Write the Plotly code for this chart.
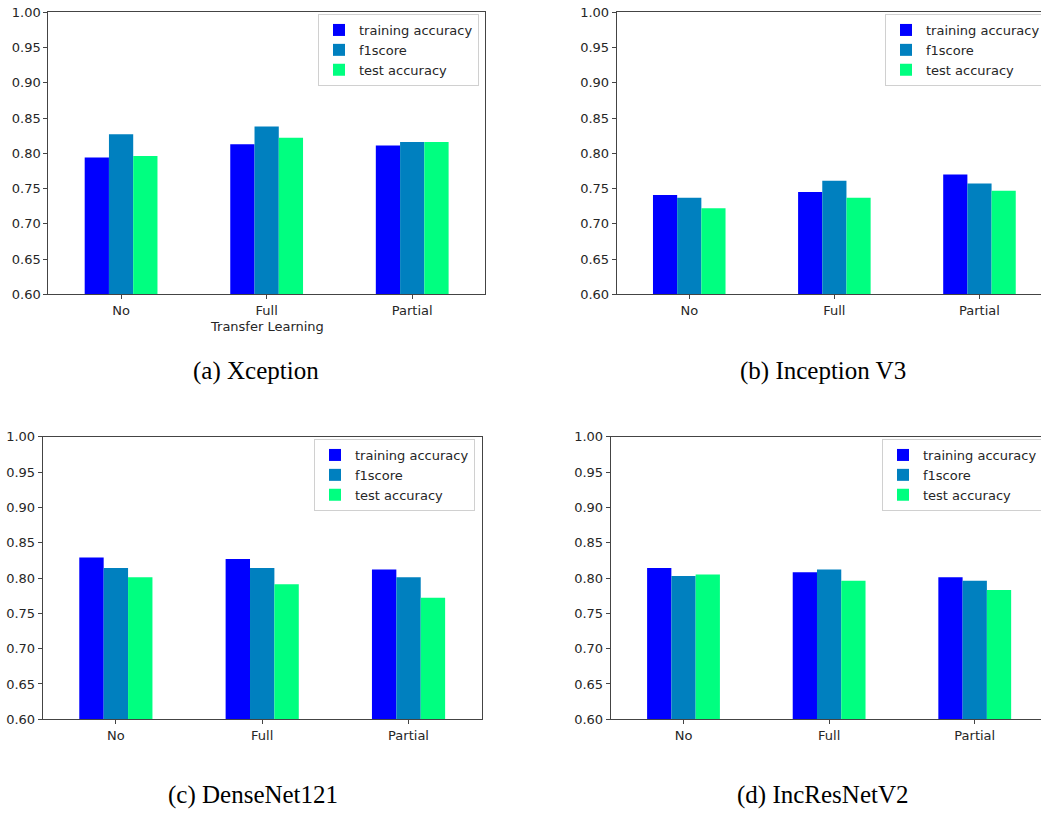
import plotly.graph_objects as go

categories = ["No", "Full", "Partial"]
series_names = ["training accuracy", "f1score", "test accuracy"]
colors = ["#0000ff", "#0080bf", "#00ff80"]

# values per panel: [training accuracy, f1score, test accuracy], each over categories
xception = [[0.794, 0.813, 0.811], [0.827, 0.838, 0.816], [0.796, 0.822, 0.816]]
inception_v3 = [[0.741, 0.745, 0.770], [0.737, 0.761, 0.757], [0.722, 0.737, 0.747]]
densenet121 = [[0.829, 0.827, 0.812], [0.814, 0.814, 0.801], [0.801, 0.791, 0.772]]
incresnetv2 = [[0.814, 0.808, 0.801], [0.803, 0.812, 0.796], [0.805, 0.796, 0.783]]

captions = ["(a) Xception", "(b) Inception V3", "(c) DenseNet121", "(d) IncResNetV2"]
y_ticks = [0.60, 0.65, 0.70, 0.75, 0.80, 0.85, 0.90, 0.95, 1.00]

panels = [xception, inception_v3, densenet121, incresnetv2]

W, H = 1041, 814

def fx(px):
    return px / W

def fy(py):
    return 1 - py / H

# panel geometry in pixels: left, right, top, bottom, xrange max
geo = [
    (48.3, 485.0, 12.3, 294.3, 2.5),
    (616.7, 1041.0, 12.3, 294.3, 2.424),
    (42.7, 481.7, 436.7, 719.3, 2.5),
    (610.7, 1041.0, 436.7, 719.3, 2.455),
]
legend_pos = [(318, 14), (885, 14), (314, 439), (882, 439)]
caption_pos = [(256, 371), (823, 371), (253, 795), (822, 795)]

fig = go.Figure()
font_tick = dict(family="DejaVu Sans", size=13, color="#262626")

layout = dict(
    width=W, height=H,
    margin=dict(l=0, r=0, t=0, b=0, autoexpand=False),
    paper_bgcolor="white", plot_bgcolor="white",
    barmode="group", bargap=0.5, bargroupgap=0,
    font=font_tick,
    annotations=[],
)

for i, data in enumerate(panels):
    n = i + 1
    sfx = "" if n == 1 else str(n)
    leg = "legend" if n == 1 else f"legend{n}"
    for s in range(3):
        fig.add_trace(go.Bar(
            x=categories, y=data[s], name=series_names[s],
            marker=dict(color=colors[s], line=dict(width=0)),
            xaxis=f"x{sfx}", yaxis=f"y{sfx}", legend=leg,
            showlegend=True,
        ))
    l, r, t, b, xmax = geo[i]
    mirror_y = (n in (1, 3))
    layout[f"xaxis{sfx}"] = dict(
        domain=[fx(l), fx(r)], anchor=f"y{sfx}",
        type="category", categoryorder="array", categoryarray=categories,
        range=[-0.5, xmax], showgrid=False, zeroline=False,
        showline=True, linecolor="#444", linewidth=1, mirror=True,
        ticks="outside", ticklen=4, tickcolor="#444", tickfont=font_tick,
        fixedrange=True,
    )
    layout[f"yaxis{sfx}"] = dict(
        domain=[fy(b), fy(t)], anchor=f"x{sfx}",
        range=[0.6, 1.0], tickvals=y_ticks, tickformat=".2f",
        showgrid=False, zeroline=False,
        showline=True, linecolor="#444", linewidth=1, mirror=mirror_y,
        ticks="outside", ticklen=4, tickcolor="#444", tickfont=font_tick,
        fixedrange=True,
    )
    lx, ly = legend_pos[i]
    layout[leg] = dict(
        x=fx(lx), y=fy(ly), xanchor="left", yanchor="top",
        bgcolor="white", bordercolor="#d0d0d0", borderwidth=1,
        font=dict(family="DejaVu Sans", size=13, color="#262626"),
        traceorder="normal",
    )
    cx, cy = caption_pos[i]
    layout["annotations"].append(dict(
        text=captions[i], x=fx(cx), y=fy(cy), xref="paper", yref="paper",
        xanchor="center", yanchor="middle", showarrow=False,
        font=dict(family="Liberation Serif", size=25, color="black"),
    ))

layout["annotations"].append(dict(
    text="Transfer Learning", x=fx(266.7), y=fy(326.7), xref="paper", yref="paper",
    xanchor="center", yanchor="middle", showarrow=False,
    font=dict(family="DejaVu Sans", size=13, color="#262626"),
))

fig.update_layout(**layout)
fig.write_html(
    "out.html",
    config={"displayModeBar": False},
    post_script="document.body.style.margin='0';document.body.style.overflow='hidden';",
)
